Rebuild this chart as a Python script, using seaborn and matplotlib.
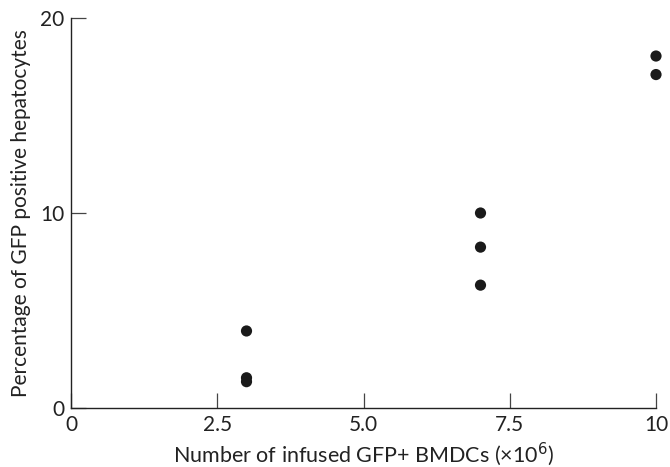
import pandas as pd
import matplotlib
matplotlib.use("Agg")
import matplotlib.pyplot as plt
import seaborn as sns

# =========================
# DATA
# =========================
cells_infused = [3, 3, 3, 7, 7, 7, 10, 10]
gfp_percent = [3.95, 1.55, 1.35, 10.0, 8.25, 6.3, 18.05, 17.1]

x_ticks = [0, 2.5, 5.0, 7.5, 10]
x_tick_labels = ["0", "2.5", "5.0", "7.5", "10"]
y_ticks = [0, 10, 20]

df = pd.DataFrame({"cells": cells_infused, "pct": gfp_percent})

# =========================
# PLOT
# =========================
sns.set_style("ticks")
plt.rcParams["font.family"] = ["Lato", "DejaVu Sans"]

fig = plt.figure(figsize=(6.7, 4.67), dpi=100)
ax = fig.add_axes([71 / 670, 59 / 467, 585 / 670, 390 / 467])

sns.scatterplot(data=df, x="cells", y="pct", ax=ax, color="#1a1a1a",
                s=65, edgecolor="none", clip_on=False)

ax.set_xlim(0, 10)
ax.set_ylim(0, 20)
ax.set_xticks(x_ticks)
ax.set_xticklabels(x_tick_labels)
ax.set_yticks(y_ticks)

sns.despine(ax=ax)
for side in ["left", "bottom"]:
    ax.spines[side].set_color("#222222")
    ax.spines[side].set_linewidth(1.0)

ax.tick_params(direction="in", length=11, width=0.9, color="#444444",
               labelsize=15, labelcolor="#222222", pad=5)

ax.set_xlabel("Number of infused GFP+ BMDCs (×10$^6$)", fontsize=15.5,
              color="#222222", labelpad=4)
ax.set_ylabel("Percentage of GFP positive hepatocytes", fontsize=15,
              color="#222222", labelpad=6)

plt.savefig("out.png", dpi=100)
